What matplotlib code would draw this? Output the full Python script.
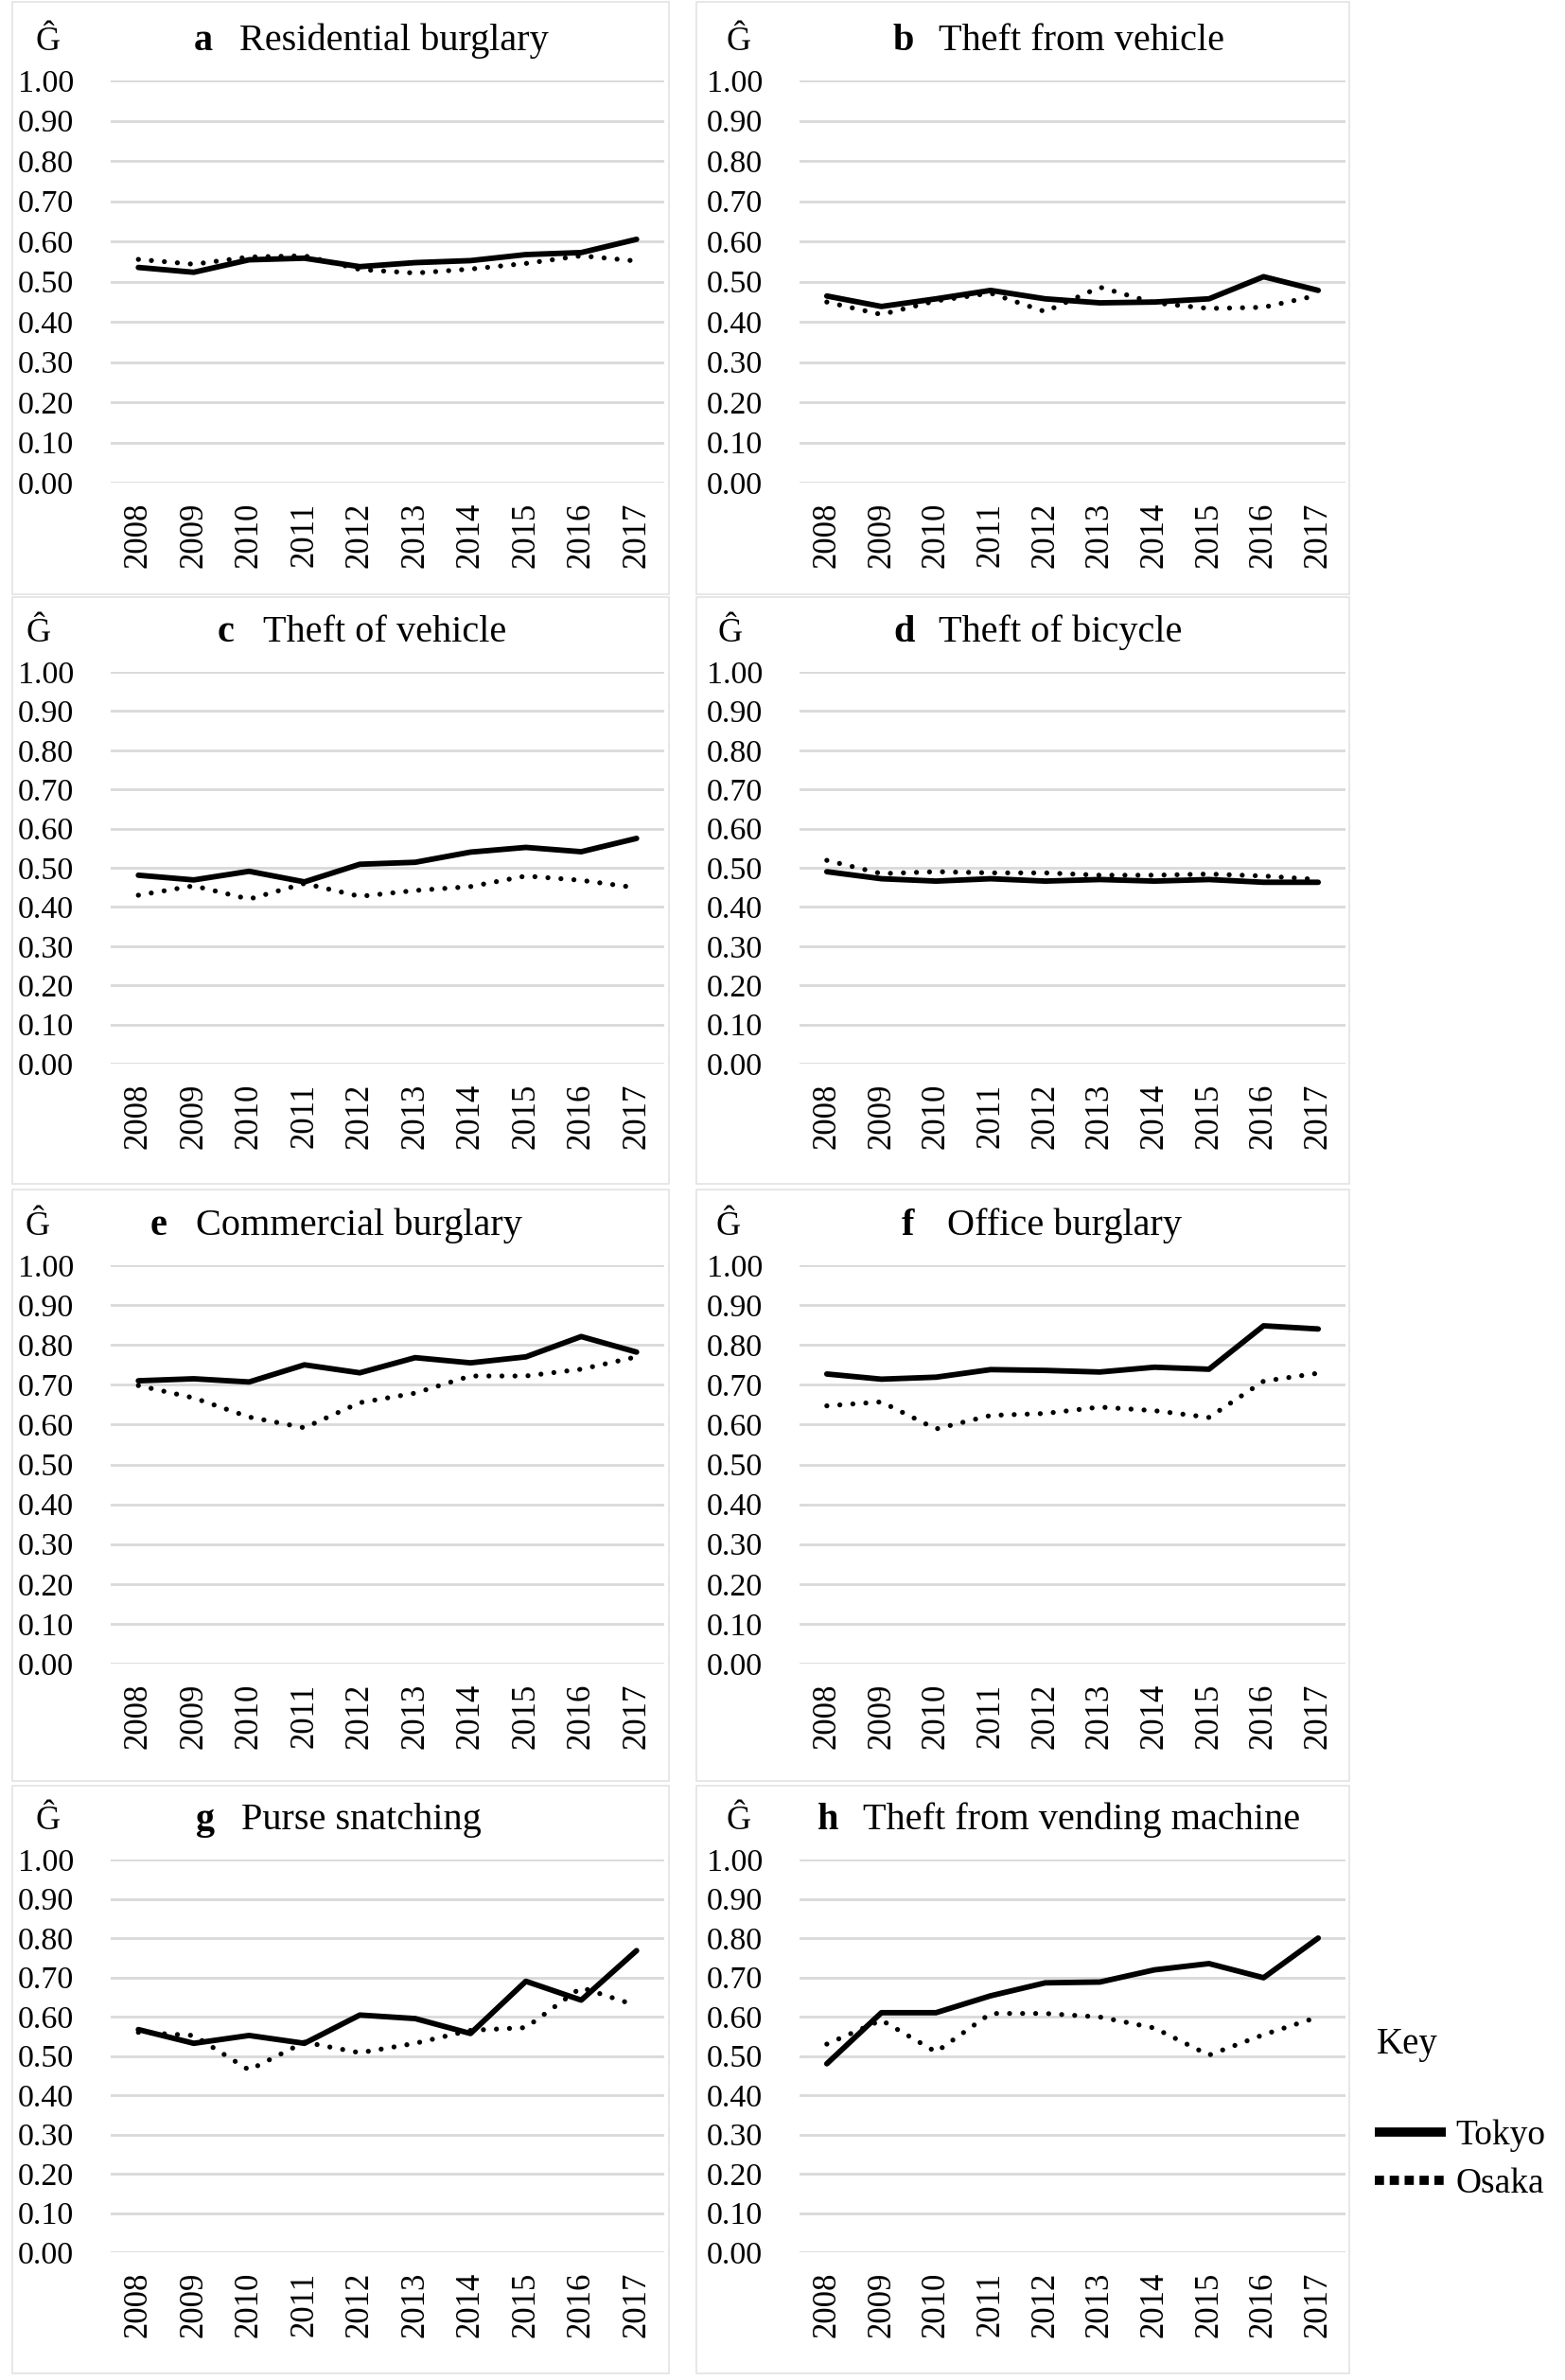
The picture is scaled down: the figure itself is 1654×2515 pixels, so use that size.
import numpy as np
import matplotlib
matplotlib.use("Agg")
import matplotlib.pyplot as plt
from matplotlib.lines import Line2D
from matplotlib.patches import Rectangle

plt.rcParams["font.family"] = ["Liberation Serif", "DejaVu Serif"]

YEARS = ["2008", "2009", "2010", "2011", "2012", "2013", "2014", "2015", "2016", "2017"]
LETTERS = ["a", "b", "c", "d", "e", "f", "g", "h"]
TITLES = [
    "Residential burglary",
    "Theft from vehicle",
    "Theft of vehicle",
    "Theft of bicycle",
    "Commercial burglary",
    "Office burglary",
    "Purse snatching",
    "Theft from vending machine",
]

# Gini-type index per crime, Tokyo (solid) and Osaka (dotted)
TOKYO_A = [0.535, 0.523, 0.554, 0.558, 0.537, 0.547, 0.552, 0.567, 0.572, 0.605]
OSAKA_A = [0.555, 0.543, 0.561, 0.564, 0.530, 0.521, 0.531, 0.545, 0.564, 0.551]
TOKYO_B = [0.464, 0.438, 0.457, 0.478, 0.457, 0.447, 0.449, 0.457, 0.512, 0.478]
OSAKA_B = [0.449, 0.418, 0.452, 0.471, 0.425, 0.486, 0.447, 0.433, 0.436, 0.466]
TOKYO_C = [0.481, 0.469, 0.491, 0.464, 0.509, 0.514, 0.540, 0.552, 0.541, 0.575]
OSAKA_C = [0.430, 0.454, 0.420, 0.460, 0.427, 0.442, 0.452, 0.479, 0.468, 0.449]
TOKYO_D = [0.490, 0.472, 0.466, 0.472, 0.466, 0.470, 0.466, 0.470, 0.463, 0.463]
OSAKA_D = [0.519, 0.485, 0.490, 0.487, 0.487, 0.481, 0.481, 0.484, 0.479, 0.470]
TOKYO_E = [0.710, 0.715, 0.707, 0.750, 0.730, 0.768, 0.755, 0.770, 0.821, 0.782]
OSAKA_E = [0.698, 0.667, 0.619, 0.592, 0.655, 0.679, 0.722, 0.722, 0.739, 0.770]
TOKYO_F = [0.727, 0.714, 0.719, 0.738, 0.736, 0.732, 0.744, 0.739, 0.848, 0.840]
OSAKA_F = [0.647, 0.657, 0.589, 0.623, 0.628, 0.644, 0.635, 0.618, 0.709, 0.729]
TOKYO_G = [0.567, 0.532, 0.552, 0.532, 0.604, 0.595, 0.557, 0.690, 0.642, 0.768]
OSAKA_G = [0.560, 0.552, 0.464, 0.535, 0.508, 0.532, 0.565, 0.572, 0.674, 0.628]
TOKYO_H = [0.480, 0.610, 0.610, 0.653, 0.686, 0.688, 0.719, 0.735, 0.699, 0.800]
OSAKA_H = [0.530, 0.591, 0.510, 0.608, 0.608, 0.599, 0.571, 0.502, 0.554, 0.599]

TOKYO = [TOKYO_A, TOKYO_B, TOKYO_C, TOKYO_D, TOKYO_E, TOKYO_F, TOKYO_G, TOKYO_H]
OSAKA = [OSAKA_A, OSAKA_B, OSAKA_C, OSAKA_D, OSAKA_E, OSAKA_F, OSAKA_G, OSAKA_H]

# layout in pixels of the 1654x2515 canvas
W, H = 1654, 2515
COL_X = [(117, 702), (845, 1422)]
ROW_Y = [(85, 510), (710, 1124), (1337, 1758), (1965, 2380)]
BOX_X = [(13, 707), (736, 1426)]
BOX_Y = [(2, 628), (631, 1251), (1257, 1882), (1887, 2508)]
G_X = [51, 781, 41, 772, 40, 770, 51, 781]
LETTER_X = [205, 944, 230, 944, 159, 953, 207, 864]

GRID = "#d9d9d9"

fig = plt.figure(figsize=(W / 100, H / 100), dpi=100)


def fx(px):
    return px / W


def fy(py):
    return 1 - py / H


x = np.arange(len(YEARS))
for i in range(8):
    col, row = i % 2, i // 2
    x0, x1 = COL_X[col]
    ytop, ybot = ROW_Y[row]

    # panel frame
    bx0, bx1 = BOX_X[col]
    by0, by1 = BOX_Y[row]
    fig.patches.append(Rectangle((fx(bx0), fy(by1)), fx(bx1 - bx0), (by1 - by0) / H,
                                 transform=fig.transFigure, fill=False,
                                 edgecolor="#e3e3e3", linewidth=1.2))

    ax = fig.add_axes([fx(x0), fy(ybot), fx(x1 - x0), (ybot - ytop) / H])
    ax.plot(x, TOKYO[i], color="black", linewidth=4.2, solid_capstyle="round",
            solid_joinstyle="round", zorder=3)
    ax.plot(x, OSAKA[i], color="black", linewidth=3.8, linestyle=(0, (0.01, 2.6)),
            dash_capstyle="round", zorder=3)

    ax.set_xlim(-0.5, len(YEARS) - 0.5)
    ax.set_ylim(0, 1.0)
    ax.set_yticks(np.arange(0, 1.01, 0.1))
    ax.set_yticklabels([f"{v:.2f}" for v in np.arange(0, 1.01, 0.1)], fontsize=24.5)
    ax.set_xticks(x)
    ax.set_xticklabels(YEARS, rotation=90, fontsize=25)
    ax.tick_params(axis="y", length=0, pad=28)
    ax.tick_params(axis="x", length=0, pad=15)
    ax.yaxis.grid(True, color=GRID, linewidth=2)
    ax.set_axisbelow(True)
    for s in ax.spines.values():
        s.set_visible(False)
    ax.patch.set_alpha(0)

    base = ytop - 32
    fig.text(fx(G_X[i]), fy(base), "Ĝ", fontsize=26, ha="center", va="baseline")
    fig.text(fx(LETTER_X[i]), fy(base), LETTERS[i], fontsize=29, fontweight="bold",
             ha="left", va="baseline")
    fig.text(fx(LETTER_X[i] + 48), fy(base), TITLES[i], fontsize=29,
             ha="left", va="baseline")

# key
fig.text(fx(1455), fy(2170), "Key", fontsize=28, ha="left", va="baseline")
handles = [
    Line2D([], [], color="black", linewidth=7, solid_capstyle="butt"),
    Line2D([], [], color="black", linewidth=7, linestyle=(0, (1, 0.62)),
           dash_capstyle="butt"),
]
fig.legend(handles, ["Tokyo", "Osaka"], loc="upper left",
           bbox_to_anchor=(fx(1453), fy(2240)), frameon=False, fontsize=27,
           handlelength=2.0, handletextpad=0.28, labelspacing=0.42,
           borderpad=0, borderaxespad=0)

fig.savefig("out.png", dpi=100, facecolor="white")
